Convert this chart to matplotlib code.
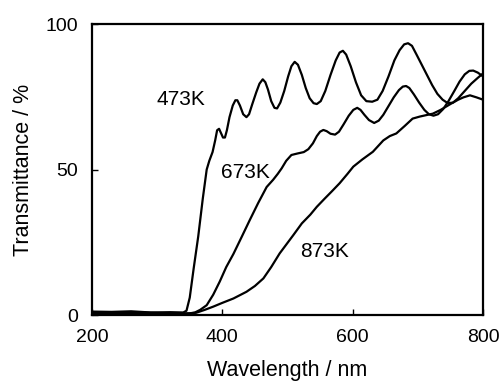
import matplotlib
matplotlib.use("Agg")
import matplotlib.pyplot as plt

plt.rcParams["font.family"] = ["Liberation Sans", "DejaVu Sans"]

# ── data (wavelength nm, transmittance %) ──
wl_473 = [200, 230, 260, 290, 320, 340, 345, 350, 356, 363, 370, 376, 380, 385,
          389, 392, 395, 398, 401, 404, 407, 411, 416, 420, 423, 427, 432, 437,
          441, 446, 452, 457, 462, 466, 470, 475, 480, 484, 489, 495, 501, 506,
          511, 516, 522, 528, 534, 540, 545, 551, 558, 566, 574, 580, 585, 590,
          597, 605, 613, 621, 630, 638, 646, 655, 664, 672, 679, 685, 691, 698,
          706, 714, 722, 730, 738, 746, 754, 762, 772, 782, 792, 800]
tr_473 = [1.2, 1.1, 1.3, 0.9, 1.0, 0.9, 1.5, 6.0, 16, 27, 40, 50, 53, 56,
          60, 63.5, 64, 62.5, 61, 61, 63.5, 68, 72, 73.8, 73.8, 72, 69, 68,
          69, 72.5, 76.5, 79.5, 81, 80, 77.5, 73.5, 71.2, 71, 73, 77, 82, 85.5,
          87, 86, 82.5, 78, 74.5, 72.8, 72.5, 73.5, 77, 82.5, 87.5, 90.2, 90.8, 89.5,
          85.5, 80, 75.5, 73.5, 73.3, 74, 77, 82, 87.5, 91, 93, 93.4, 92.5, 89.5,
          86, 82.5, 79, 76, 74, 72.8, 73, 74.5, 77, 79.5, 81.5, 83]

wl_673 = [200, 240, 280, 320, 350, 358, 366, 376, 386, 396, 406, 417, 430, 442,
          455, 468, 478, 485, 491, 498, 506, 515, 525, 532, 539, 545, 550, 555,
          560, 566, 573, 579, 586, 594, 601, 607, 612, 618, 625, 633, 640, 647,
          655, 663, 671, 677, 682, 687, 694, 702, 710, 717, 724, 731, 739, 747,
          756, 764, 772, 779, 785, 792, 800]
tr_673 = [0.8, 0.7, 0.9, 0.6, 0.6, 0.9, 1.8, 3.4, 7.0, 11.5, 16.5, 21, 27, 32.6,
          38.5, 44, 46.5, 48.5, 50.4, 53, 55, 55.5, 56, 57, 59, 61.5, 63, 63.6,
          63.2, 62.3, 62, 63, 65.5, 68.5, 70.5, 71.2, 70.5, 68.8, 67, 66, 66.8, 68.8,
          71.8, 74.8, 77.3, 78.5, 78.7, 78, 75.8, 73, 70.5, 69, 68.5, 69, 70.8, 73.5,
          77, 80.2, 82.7, 83.9, 84, 83.3, 82]

wl_873 = [200, 250, 300, 340, 360, 373, 386, 400, 417, 437, 450, 463, 475, 488,
          499, 509, 522, 535, 545, 557, 568, 580, 592, 601, 615, 631, 647, 657,
          667, 680, 692, 703, 713, 723, 735, 750, 762, 770, 780, 790, 800]
tr_873 = [0.5, 0.4, 0.3, 0.4, 0.8, 1.8, 2.9, 4.2, 5.7, 8.0, 10, 12.6, 16.5, 21.2,
          24.5, 27.5, 31.5, 34.5, 37.2, 40, 42.5, 45.3, 48.5, 51, 53.5, 56.1, 60, 61.5,
          62.4, 65, 67.5, 68.2, 68.7, 69.2, 70.5, 72.5, 74, 74.8, 75.5, 74.8, 74]

labels = ["473K", "673K", "873K"]
label_pos = [(337, 74), (435, 49), (557, 22)]

x_ticks = [200, 400, 600, 800]
y_ticks = [0, 50, 100]

fig = plt.figure(figsize=(5.0, 3.81), dpi=100)
ax = fig.add_axes([0.184, 0.173, 0.782, 0.764])

for xs, ys in [(wl_473, tr_473), (wl_673, tr_673), (wl_873, tr_873)]:
    ax.plot(xs, ys, color="black", linewidth=1.6, solid_joinstyle="round")

for txt, (lx, ly) in zip(labels, label_pos):
    ax.text(lx, ly, txt, fontsize=15, ha="center", va="center")

ax.set_xlim(200, 800)
ax.set_ylim(0, 100)
ax.set_xticks(x_ticks)
ax.set_yticks(y_ticks)
ax.tick_params(direction="in", length=4, width=1, labelsize=14)
ax.tick_params(axis="x", pad=10)
ax.tick_params(axis="y", pad=10)
for s in ax.spines.values():
    s.set_linewidth(1.6)

ax.set_xlabel("Wavelength / nm", fontsize=15.5, labelpad=10)
ax.set_ylabel("Transmittance / %", fontsize=15.5, labelpad=8)

fig.savefig("out.png", dpi=100)
